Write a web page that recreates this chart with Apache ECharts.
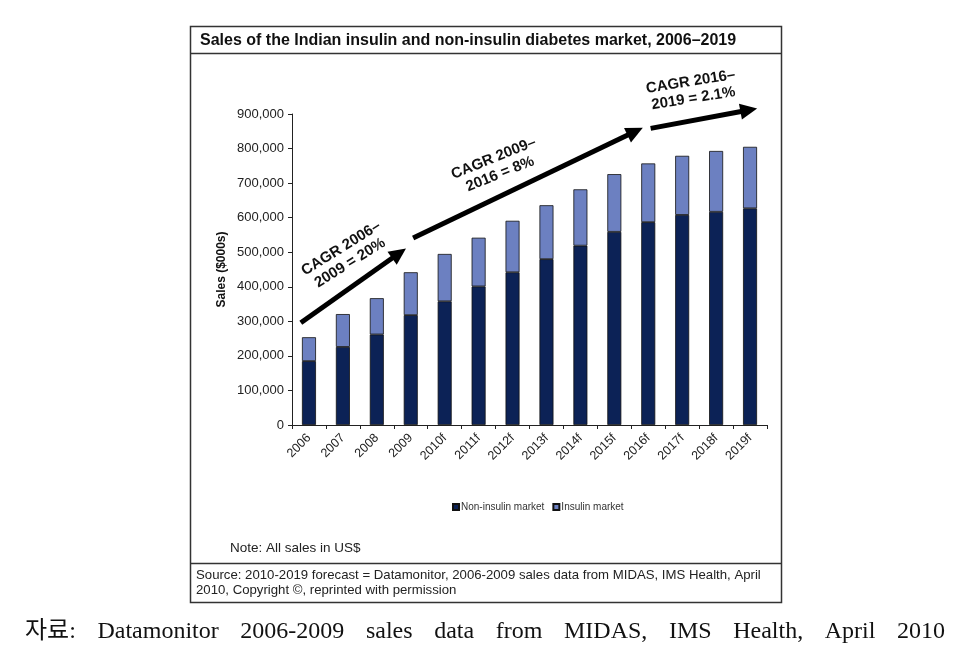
<!DOCTYPE html>
<html><head><meta charset="utf-8">
<script src="https://cdn.jsdelivr.net/npm/echarts@6/dist/echarts.min.js"></script>
<style>html,body{margin:0;padding:0;background:#fff}#c{width:955px;height:647px}</style>
</head><body><div id="c"></div>
<script>
const categories = ['2006','2007','2008','2009','2010f','2011f','2012f','2013f','2014f','2015f','2016f','2017f','2018f','2019f'];
const nonInsulin = [185000,226000,262000,318000,358000,401000,442000,480000,519000,559000,587000,608000,617000,627000];
const insulin = [69000,95000,105000,124000,137000,141000,149000,156000,163000,167000,170000,171000,176000,178000];
const seriesNames = ['Non-insulin market','Insulin market'];
const yMin = 0, yMax = 900000, yStep = 100000;
const titleText = 'Sales of the Indian insulin and non-insulin diabetes market, 2006\u20132019';
const yAxisName = 'Sales ($000s)';
const noteText = 'Note: All sales in US$';
const sourceLines = ['Source: 2010-2019 forecast = Datamonitor, 2006-2009 sales data from MIDAS, IMS Health, April', '2010, Copyright \u00a9, reprinted with permission'];
const captionWords = ['\uc790\ub8cc:','Datamonitor','2006-2009','sales','data','from','MIDAS,','IMS','Health,','April','2010'];
// annotation anchors in data space: [category index, value]
const cagrArrows = [
  {from:[-0.24,296000], to:[2.86,511000]},
  {from:[3.07,541000], to:[9.84,860000]},
  {from:[10.07,858500], to:[13.21,916000]}
];
const cagrLabels = [
  {text:'CAGR 2006\u2013\n2009 = 20%', at:[1.08,490000], rot:32},
  {text:'CAGR 2009\u2013\n2016 = 8%', at:[5.54,749000], rot:22},
  {text:'CAGR 2016\u2013\n2019 = 2.1%', at:[11.29,969000], rot:9}
];

const chart = echarts.init(document.getElementById('c'), null, {renderer:'canvas'});
const FONT = '"Liberation Sans", Arial, sans-serif';
chart.setOption({
  animation:false,
  backgroundColor:'#fff',
  grid:{left:292, right:188, top:114, bottom:222},
  legend:{
    data:seriesNames, left:447, top:497, itemWidth:6, itemHeight:6, itemGap:8,
    icon:'rect',
    textStyle:{fontSize:10, color:'#333', fontFamily:FONT, padding:[0,0,0,-3]}
  },
  xAxis:{
    type:'category', data:categories, boundaryGap:true,
    axisLine:{lineStyle:{color:'#222', width:1}},
    axisTick:{show:true, length:4, lineStyle:{color:'#222'}},
    axisLabel:{rotate:45, fontSize:12.5, color:'#222', fontFamily:FONT, margin:11, interval:0}
  },
  yAxis:{
    type:'value', min:yMin, max:yMax, interval:yStep,
    name:yAxisName, nameLocation:'middle', nameGap:64,
    nameTextStyle:{fontSize:12, fontWeight:'bold', color:'#111', fontFamily:FONT},
    axisLine:{show:true, lineStyle:{color:'#222', width:1}},
    axisTick:{show:true, length:4, lineStyle:{color:'#222'}},
    splitLine:{show:false},
    axisLabel:{fontSize:13, color:'#222', fontFamily:FONT, margin:8,
      formatter:v=>v.toLocaleString('en-US')}
  },
  series:[
    {name:seriesNames[0], type:'bar', stack:'s', data:nonInsulin, barWidth:14,
     itemStyle:{color:'#0c2256', borderColor:'#111', borderWidth:0.8}},
    {name:seriesNames[1], type:'bar', stack:'s', data:insulin, barWidth:14,
     itemStyle:{color:'#6c80c1', borderColor:'#111', borderWidth:0.8}}
  ]
});

function toPx(pt){
  const a = chart.convertToPixel({gridIndex:0},[0, pt[1]]);
  const b = chart.convertToPixel({gridIndex:0},[1, pt[1]]);
  return [a[0] + (b[0]-a[0])*pt[0], a[1]];
}
const g = [];
// frame
g.push({type:'rect', shape:{x:190.5,y:26.5,width:591,height:576}, style:{fill:'none', stroke:'#333', lineWidth:1.5}, z:10});
g.push({type:'line', shape:{x1:190,y1:53.5,x2:782,y2:53.5}, style:{stroke:'#333', lineWidth:1.5}, z:10});
g.push({type:'line', shape:{x1:190,y1:563.5,x2:782,y2:563.5}, style:{stroke:'#333', lineWidth:1.5}, z:10});
g.push({type:'text', x:200, y:40.5, style:{text:titleText, fontSize:16, fontWeight:'bold', fontFamily:FONT, fill:'#111', align:'left', verticalAlign:'middle'}, z:10});
g.push({type:'text', x:230, y:548, style:{text:noteText, fontSize:13.5, fontFamily:FONT, fill:'#222', align:'left', verticalAlign:'middle'}, z:10});
g.push({type:'text', x:196, y:575.5, style:{text:sourceLines[0], fontSize:13.2, fontFamily:FONT, fill:'#222', align:'left', verticalAlign:'middle'}, z:10});
g.push({type:'text', x:196, y:590.5, style:{text:sourceLines[1], fontSize:13.2, fontFamily:FONT, fill:'#222', align:'left', verticalAlign:'middle'}, z:10});
// caption words, justified between two edges
const capFont = '"Liberation Serif", "Noto Sans CJK KR", serif';
const capSize = 24;
const ctx = document.createElement('canvas').getContext('2d');
ctx.font = capSize + 'px ' + capFont;
const widths = captionWords.map(w=>ctx.measureText(w).width);
const capL = 25, capR = 945;
const gap = (capR - capL - widths.reduce((s,w)=>s+w,0)) / (captionWords.length-1);
let cx = capL;
captionWords.forEach((w,i)=>{
  g.push({type:'text', x:cx, y:632, style:{text:w, fontSize:capSize, fontFamily:capFont, fill:'#111', align:'left', verticalAlign:'middle'}, z:10});
  cx += widths[i] + gap;
});
// arrows
cagrArrows.forEach(a=>{
  const p1 = toPx(a.from), p2 = toPx(a.to);
  const dx = p2[0]-p1[0], dy = p2[1]-p1[1];
  const L = Math.hypot(dx,dy), ux = dx/L, uy = dy/L, nx = -uy, ny = ux;
  const hl = 17, hw = 8;
  const bx = p2[0]-ux*hl, by = p2[1]-uy*hl;
  g.push({type:'line', shape:{x1:p1[0],y1:p1[1],x2:bx+ux*2,y2:by+uy*2}, style:{stroke:'#000', lineWidth:5}, z:20});
  g.push({type:'polygon', shape:{points:[[p2[0],p2[1]],[bx+nx*hw,by+ny*hw],[bx-nx*hw,by-ny*hw]]}, style:{fill:'#000'}, z:20});
});
cagrLabels.forEach(l=>{
  const p = toPx(l.at);
  g.push({type:'text', x:p[0], y:p[1], rotation:l.rot*Math.PI/180,
    style:{text:l.text, fontSize:15, fontWeight:'bold', fontFamily:FONT, fill:'#111', align:'center', verticalAlign:'middle', lineHeight:17}, z:20});
});
chart.setOption({graphic:g});
</script></body></html>
